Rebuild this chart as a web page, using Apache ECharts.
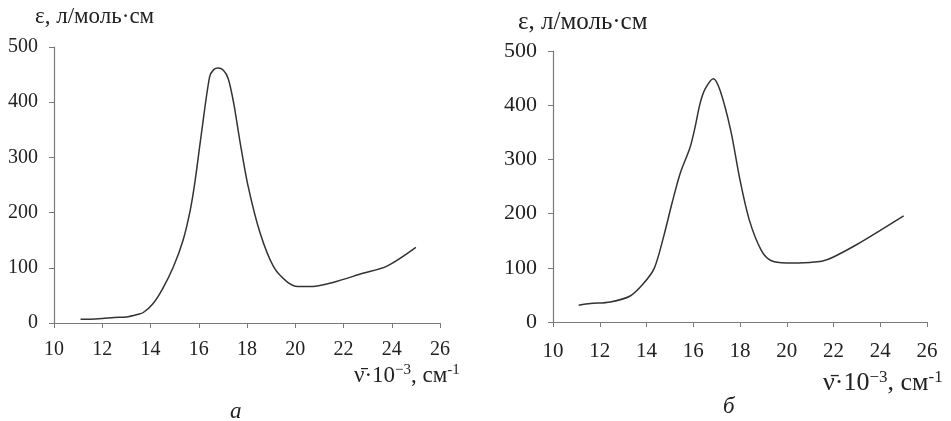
<!DOCTYPE html>
<html><head><meta charset="utf-8">
<script src="https://cdn.jsdelivr.net/npm/echarts@6/dist/echarts.min.js"></script>
<style>html,body{margin:0;padding:0;background:#fff}#c{width:951px;height:421px}</style>
</head><body><div id="c"></div>
<script>
// Panel "а"
const xA = [11.1, 11.5, 12, 12.5, 13, 13.5, 13.7, 14.1, 14.5, 14.95, 15.35, 15.65, 15.85, 16.1, 16.45, 16.62, 16.8, 17.02, 17.22, 17.45, 17.7, 18.05, 18.55, 19.1, 19.65, 20.1, 20.6, 21.6, 22.8, 23.8, 25.0];
const yA = [7, 7, 8, 10, 11, 16, 19, 35, 62, 102, 150, 205, 258, 340, 446, 459, 462, 458, 443, 398, 331, 247, 162, 102, 75, 66, 66, 74, 90, 103, 137];
// Panel "б"
const xB = [11.1, 11.6, 12.45, 13.3, 13.87, 14.33, 14.73, 15.09, 15.44, 15.87, 16.08, 16.29, 16.51, 16.86, 17.15, 17.6, 18.0, 18.4, 18.9, 19.3, 20.0, 21.0, 21.5, 22.0, 23.0, 24.0, 25.0];
const yB = [31, 34, 37, 48, 71, 99, 157, 219, 274, 323, 360, 403, 430, 449, 427, 354, 262, 188, 133, 114, 109, 110, 112, 120, 143, 169, 196];
const xTicks = [10, 26, 2];
const yTicks = [0, 500, 100];
const yTitle = 'ε, л/моль·см';
const panelLabels = ['а', 'б'];

const FONT = '"Liberation Serif", "DejaVu Serif", serif';
const pairs = (xs, ys) => xs.map((x, i) => [x, ys[i]]);

function xAx(gi, margin, fs) {
  return {
    type: 'value', gridIndex: gi, min: xTicks[0], max: xTicks[1], interval: xTicks[2],
    axisLine: { lineStyle: { color: '#7a7a7a', width: 1.2 } },
    axisTick: { length: 5, lineStyle: { color: '#7a7a7a' } },
    splitLine: { show: false },
    axisLabel: { margin: margin, fontFamily: FONT, fontSize: fs, color: '#222' }
  };
}
function yAx(gi, margin, fs) {
  return {
    type: 'value', gridIndex: gi, min: yTicks[0], max: yTicks[1], interval: yTicks[2],
    axisLine: { show: true, lineStyle: { color: '#7a7a7a', width: 1.2 } },
    axisTick: { show: true, length: 5, lineStyle: { color: '#7a7a7a' } },
    splitLine: { show: false },
    axisLabel: { margin: margin, fontFamily: FONT, fontSize: fs, color: '#222' }
  };
}
function axName(x, y, fs) {
  const rich = {
    n: { fontFamily: FONT, fontSize: fs, fill: '#222' },
    s: { fontFamily: FONT, fontSize: Math.round(fs * 0.65), fill: '#222', verticalAlign: 'top', padding: [0, 0, Math.round(fs * 0.45), 0] }
  };
  return {
    type: 'text', left: x, top: y,
    style: { text: '{n|ν̄·10}{s|−3}{n|, см}{s|-1}', rich: rich, font: fs + 'px ' + FONT, fill: '#222' }
  };
}

const chart = echarts.init(document.getElementById('c'), null, { renderer: 'canvas' });
chart.setOption({
  backgroundColor: '#fff',
  animation: false,
  grid: [
    { left: 54, right: 511, top: 47, bottom: 98 },
    { left: 553, right: 24, top: 51, bottom: 99 }
  ],
  xAxis: [xAx(0, 17, 20), xAx(1, 19, 21)],
  yAxis: [yAx(0, 16, 20), yAx(1, 16, 22)],
  series: [
    { type: 'line', xAxisIndex: 0, yAxisIndex: 0, data: pairs(xA, yA), smooth: 0.3, symbol: 'none', lineStyle: { color: '#333', width: 1.5 } },
    { type: 'line', xAxisIndex: 1, yAxisIndex: 1, data: pairs(xB, yB), smooth: 0.3, symbol: 'none', lineStyle: { color: '#333', width: 1.5 } }
  ],
  graphic: [
    { type: 'text', left: 35, top: 5, style: { text: yTitle, font: '23px ' + FONT, fill: '#222' } },
    { type: 'text', left: 518, top: 10, style: { text: yTitle, font: '25px ' + FONT, fill: '#222' } },
    axName(354, 363, 23),
    axName(823, 369, 26),
    { type: 'text', left: 230, top: 400, style: { text: panelLabels[0], font: 'italic 23px ' + FONT, fill: '#222' } },
    { type: 'text', left: 723, top: 395, style: { text: panelLabels[1], font: 'italic 23px ' + FONT, fill: '#222' } }
  ]
});
</script></body></html>
